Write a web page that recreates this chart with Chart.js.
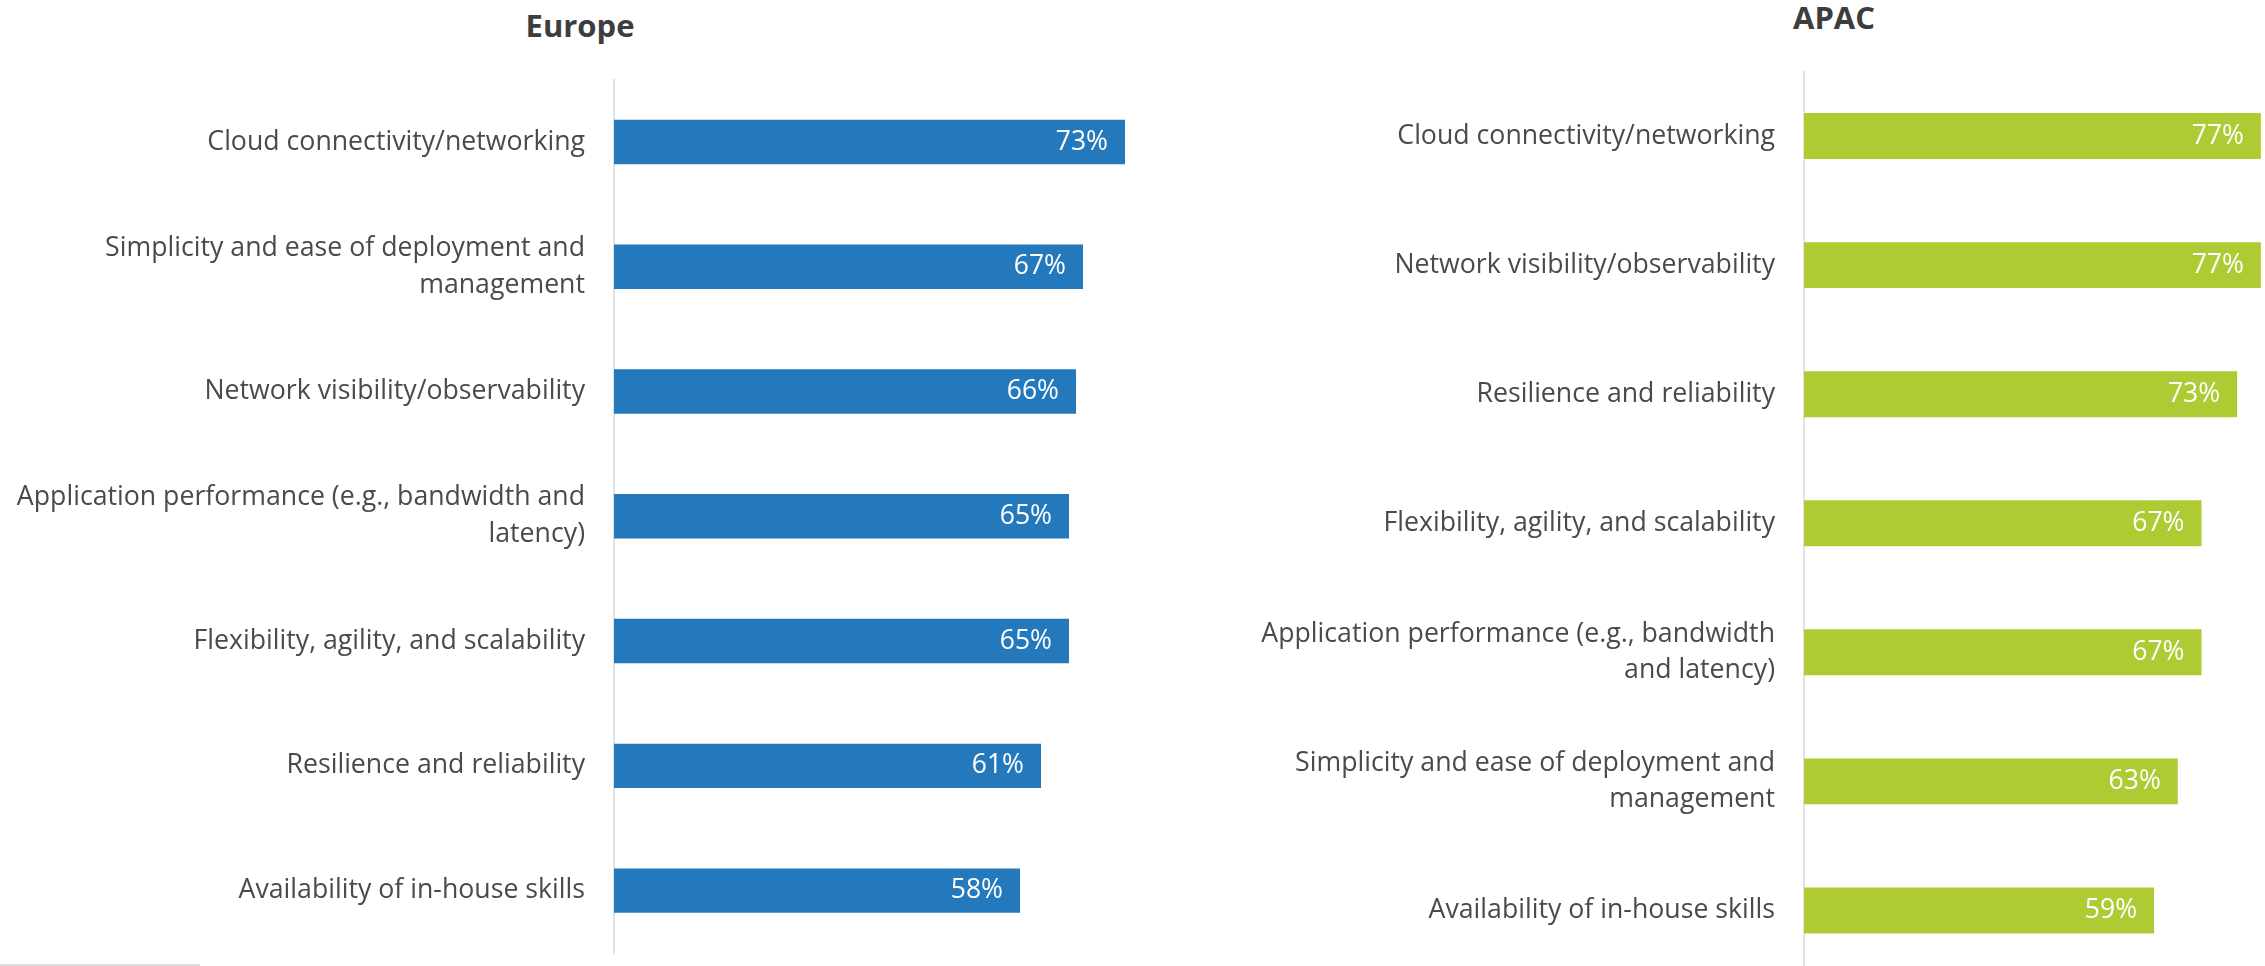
<!DOCTYPE html>
<html>
<head>
<meta charset="utf-8">
<title>Europe vs APAC</title>
<script src="https://cdn.jsdelivr.net/npm/chart.js@4/dist/chart.umd.min.js"></script>
<style>
  html, body { margin: 0; padding: 0; background: #fff; overflow: hidden; }
  body { width: 2265px; height: 966px; position: relative; font-family: "Open Sans", "Noto Sans", sans-serif; }
  #europeChart { position: absolute; left: 0; top: 0; }
  #apacChart { position: absolute; left: 1200px; top: 0; }
  .panel-title {
    position: absolute; width: 400px; text-align: center;
    font-size: 31px; font-weight: bold; line-height: 37px; color: #3d3d3d;
  }
  #europeTitle { left: 380px; top: 7px; }
  #apacTitle { left: 1634px; top: -1px; }
  .footnote-rule { position: absolute; left: 0; top: 964px; width: 200px; height: 2px; background: #dedede; }
</style>
</head>
<body>
<div id="europeTitle" class="panel-title">Europe</div>
<div id="apacTitle" class="panel-title">APAC</div>
<canvas id="europeChart" width="1160" height="966"></canvas>
<canvas id="apacChart" width="1065" height="1000"></canvas>
<div class="footnote-rule"></div>
<script>
// data
const europeLabels = [
  'Cloud connectivity/networking',
  ['Simplicity and ease of deployment and', 'management'],
  'Network visibility/observability',
  ['Application performance (e.g., bandwidth and', 'latency)'],
  'Flexibility, agility, and scalability',
  'Resilience and reliability',
  'Availability of in-house skills'
];
const europeValues = [73, 67, 66, 65, 65, 61, 58];

const apacLabels = [
  'Cloud connectivity/networking',
  'Network visibility/observability',
  'Resilience and reliability',
  'Flexibility, agility, and scalability',
  ['Application performance (e.g., bandwidth', 'and latency)'],
  ['Simplicity and ease of deployment and', 'management'],
  'Availability of in-house skills'
];
const apacValues = [77, 77, 73, 67, 67, 63, 59];

const FONT = '"Open Sans", "Noto Sans", sans-serif';

// white % labels inside the bar end
const valueLabels = {
  id: 'valueLabels',
  afterDatasetsDraw(chart) {
    const ctx = chart.ctx;
    const area = chart.chartArea;
    const meta = chart.getDatasetMeta(0);
    const data = chart.data.datasets[0].data;
    ctx.save();
    ctx.font = '26.5px ' + FONT;
    ctx.fillStyle = '#ffffff';
    ctx.textAlign = 'right';
    ctx.textBaseline = 'middle';
    meta.data.forEach((bar, i) => {
      const end = Math.min(bar.x, area.right);
      ctx.fillText(data[i] + '%', end - 17, bar.y);
    });
    ctx.restore();
  }
};

function makeChart(canvas, opts) {
  return new Chart(canvas, {
    type: 'bar',
    data: {
      labels: opts.labels,
      datasets: [{
        data: opts.values,
        backgroundColor: opts.color,
        barPercentage: 0.356,
        categoryPercentage: 1
      }]
    },
    options: {
      indexAxis: 'y',
      responsive: false,
      animation: false,
      devicePixelRatio: 1,
      layout: { padding: opts.padding },
      plugins: {
        legend: { display: false },
        tooltip: { enabled: false }
      },
      scales: {
        x: { display: false, min: 0, max: opts.max },
        y: {
          grid: { display: false, drawTicks: false },
          border: { display: true, color: '#e2e2e2', width: 2 },
          ticks: {
            color: '#4a4a4a',
            padding: 29,
            font: { family: FONT, size: 26.7, lineHeight: 1.38 }
          },
          afterFit(scale) {
            scale.width = opts.axisWidth;
            scale.paddingTop = 0;
            scale.paddingBottom = 0;
          }
        }
      }
    },
    plugins: [valueLabels]
  });
}

const europeChart = makeChart(document.getElementById('europeChart'), {
  labels: europeLabels,
  values: europeValues,
  color: '#2479bd',
  max: 78,
  axisWidth: 614,
  padding: { top: 79.6, left: 0, right: 0, bottom: 13 }
});

const apacChart = makeChart(document.getElementById('apacChart'), {
  labels: apacLabels,
  values: apacValues,
  color: '#aecb34',
  max: 77.7,
  axisWidth: 604,
  padding: { top: 71.5, left: 0, right: 0, bottom: 25 }
});
</script>
</body>
</html>
